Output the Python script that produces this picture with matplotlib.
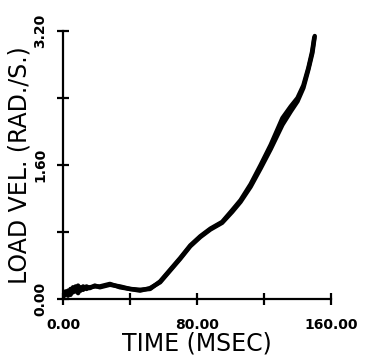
import numpy as np
import matplotlib.pyplot as plt

plt.rcParams['font.family'] = ['DejaVu Sans']

# time (msec) and load velocity (rad/s), two nearly overlapping runs
t_a = [0.0, 1.5, 3.0, 4.5, 6.0, 7.5, 9.0, 10.5, 12.0, 14.0, 16.0, 19.0, 22.0, 28.0, 34.0,
       40.0, 46.0, 52.0, 58.0, 64.0, 70.0, 76.0, 82.0, 88.0, 95.0, 101.0, 106.0,
       112.0, 118.0, 124.0, 131.0, 136.0, 140.0, 143.5, 146.5, 148.7, 150.0]
v_a = [0.03, 0.06, 0.10, 0.05, 0.14, 0.09, 0.16, 0.10, 0.15, 0.12, 0.14, 0.15, 0.15, 0.18, 0.14,
       0.12, 0.11, 0.12, 0.21, 0.35, 0.49, 0.64, 0.75, 0.84, 0.92, 1.06, 1.18,
       1.37, 1.60, 1.84, 2.16, 2.30, 2.40, 2.55, 2.76, 2.95, 3.12]

t_b = [0.0, 1.5, 3.0, 4.5, 6.0, 7.5, 9.0, 10.5, 12.0, 14.0, 16.0, 19.0, 22.0, 28.0, 34.0,
       40.0, 46.0, 52.0, 58.0, 64.0, 70.0, 76.0, 82.0, 88.0, 95.0, 101.0, 106.0,
       112.0, 118.0, 124.0, 131.0, 136.0, 140.0, 143.5, 146.5, 148.9, 150.3]
v_b = [0.02, 0.09, 0.04, 0.12, 0.08, 0.15, 0.07, 0.14, 0.11, 0.15, 0.13, 0.16, 0.14, 0.17, 0.15,
       0.12, 0.10, 0.13, 0.20, 0.34, 0.48, 0.63, 0.74, 0.83, 0.91, 1.04, 1.16,
       1.34, 1.56, 1.79, 2.08, 2.24, 2.36, 2.52, 2.74, 2.94, 3.14]

x_ticks = [0, 40, 80, 120, 160]
y_ticks = [0, 0.8, 1.6, 2.4, 3.2]
x_labels = ['0.00', '', '80.00', '', '160.00']
y_labels = ['0.00', '', '1.60', '', '3.20']

fig = plt.figure(figsize=(3.68, 3.55), dpi=100)
ax = fig.add_axes([63/368, 56/355, 268/368, 268/355])

ax.plot(t_a, v_a, color='black', lw=3.2, solid_capstyle='round')
ax.plot(t_b, v_b, color='black', lw=3.2, solid_capstyle='round')

ax.set_xlim(0, 160)
ax.set_ylim(0, 3.2)
for s in ['top', 'right']:
    ax.spines[s].set_visible(False)
for s in ['left', 'bottom']:
    ax.spines[s].set_linewidth(1.6)

ax.set_xticks(x_ticks)
ax.set_xticklabels(x_labels, fontsize=10, fontweight='bold')
ax.set_yticks(y_ticks)
ax.set_yticklabels(y_labels, fontsize=10, fontweight='bold', rotation=90, va='center')
ax.tick_params(direction='inout', length=9, width=1.6)
ax.tick_params(axis='x', pad=9)
ax.tick_params(axis='y', pad=7)

ax.set_xlabel('TIME (MSEC)', fontsize=17, labelpad=0)
ax.set_ylabel('LOAD VEL. (RAD./S.)', fontsize=17, labelpad=1)

fig.savefig('out.png', dpi=100)
